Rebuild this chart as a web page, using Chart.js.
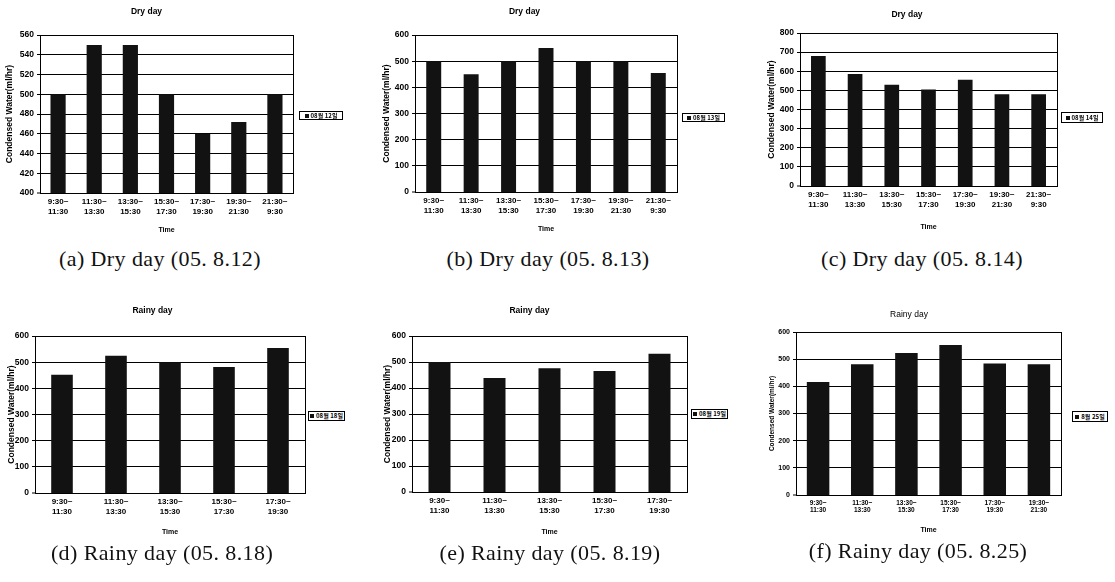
<!DOCTYPE html>
<html lang="ko">
<head>
<meta charset="UTF-8">
<title>Condensed Water - Dry / Rainy days</title>
<style>
  body { margin: 0; width: 1115px; height: 582px; background: #fff; position: relative; overflow: hidden; }
  .panel { position: absolute; }
  .legend {
    position: absolute; border: 1px solid #000; box-sizing: border-box;
    font: bold 6px "Noto Sans CJK KR", sans-serif; color: #000;
    display: flex; align-items: center; justify-content: center; white-space: nowrap; line-height: 1;
  }
  .legend i { display: inline-block; width: 4px; height: 4px; background: #111; margin-right: 2px; }
  .caption {
    position: absolute; font: 22px "Liberation Serif", serif; color: #111; letter-spacing: 0.4px;
    white-space: nowrap; transform: translate(-50%, -50%);
  }
</style>
<script src="https://cdn.jsdelivr.net/npm/chart.js@4.4.1/dist/chart.umd.min.js"></script>
</head>
<body>
<script>
// ---- data ----
const timesDry = [['9:30~', '11:30'], ['11:30~', '13:30'], ['13:30~', '15:30'], ['15:30~', '17:30'],
                  ['17:30~', '19:30'], ['19:30~', '21:30'], ['21:30~', '9:30']];
const timesRainy5 = [['9:30~', '11:30'], ['11:30~', '13:30'], ['13:30~', '15:30'], ['15:30~', '17:30'],
                     ['17:30~', '19:30']];
const timesRainy6 = [['9:30~', '11:30'], ['11:30~', '13:30'], ['13:30~', '15:30'], ['15:30~', '17:30'],
                     ['17:30~', '19:30'], ['19:30~', '21:30']];

const water0812 = [500, 550, 550, 500, 460, 472, 500];
const water0813 = [500, 450, 500, 550, 500, 500, 455];
const water0814 = [680, 585, 530, 505, 555, 480, 480];
const water0818 = [452, 525, 500, 482, 554];
const water0819 = [500, 438, 476, 465, 532];
const water0825 = [416, 481, 523, 552, 484, 481];

const chartTitles = ['Dry day', 'Dry day', 'Dry day', 'Rainy day', 'Rainy day', 'Rainy day'];
const legendLabels = ['08월 12일', '08월 13일', '08월 14일', '08월 18일', '08월 19일', '8월 25일'];
const captions = ['(a)  Dry  day (05. 8.12)', '(b)  Dry  day (05. 8.13)', '(c)  Dry  day (05. 8.14)',
                  '(d)  Rainy  day (05. 8.18)', '(e)  Rainy  day (05. 8.19)', '(f)  Rainy  day (05. 8.25)'];
const yMin = [400, 0, 0, 0, 0, 0];
const yMax = [560, 600, 800, 600, 600, 600];
const yStep = [20, 100, 100, 100, 100, 100];

const categories = [timesDry, timesDry, timesDry, timesRainy5, timesRainy5, timesRainy6];
const series = [water0812, water0813, water0814, water0818, water0819, water0825];

// ---- layout (pixels on the page) ----
const layouts = [
  { box: [0, 0, 300, 245],     plot: [40, 35, 293, 193],   titleY: 12,  yTitleX: 10,  timeY: 230, bar: 0.42, legend: [299, 111, 44, 9],  cap: [160, 259] },
  { box: [372, 0, 680, 245],   plot: [415, 35, 677, 192],  titleY: 12,  yTitleX: 387, timeY: 229, bar: 0.40, legend: [682, 113, 43, 9],  cap: [548, 259] },
  { box: [757, 0, 1059, 245],  plot: [800, 33, 1057, 186], titleY: 15,  yTitleX: 772, timeY: 227, bar: 0.40, legend: [1061, 112, 42, 11], cap: [922, 259] },
  { box: [0, 295, 308, 545],   plot: [35, 336, 305, 493],  titleY: 311, yTitleX: 12,  timeY: 532, bar: 0.40, legend: [308, 411, 37, 10], cap: [162, 553] },
  { box: [372, 295, 690, 545], plot: [412, 336, 687, 492], titleY: 311, yTitleX: 388, timeY: 532, bar: 0.40, legend: [691, 409, 37, 10], cap: [550, 553] },
  { box: [757, 295, 1063, 545], plot: [796, 332, 1061, 495], titleY: 315, yTitleX: 772, timeY: 530, bar: 0.51, legend: [1072, 411, 36, 11], cap: [918, 551] }
];

Chart.defaults.font.family = '"Liberation Sans", Arial, sans-serif';
Chart.defaults.color = '#000';

// black frame round the plot area
const framePlugin = {
  id: 'frame',
  afterDraw(chart) {
    const a = chart.chartArea;
    const ctx = chart.ctx;
    ctx.save();
    ctx.strokeStyle = '#000';
    ctx.lineWidth = 1;
    ctx.strokeRect(Math.round(a.left) + 0.5, Math.round(a.top) + 0.5,
                   Math.round(a.right - a.left), Math.round(a.bottom - a.top));
    ctx.restore();
  }
};

function makePanel(i) {
  const L = layouts[i];
  const [bx0, by0, bx1, by1] = L.box;
  const [px0, py0, px1, py1] = L.plot;
  const w = bx1 - bx0, h = by1 - by0;

  const wrap = document.createElement('div');
  wrap.className = 'panel';
  wrap.style.cssText = `left:${bx0}px;top:${by0}px;width:${w}px;height:${h}px;`;
  const canvas = document.createElement('canvas');
  canvas.width = w;
  canvas.height = h;
  wrap.appendChild(canvas);
  document.body.appendChild(wrap);

  const rainyF = i === 5;
  const titleSize = 8.5;
  const titleLH = titleSize * 1.2;
  const titleTop = L.titleY - by0 - titleLH / 2;
  const titleBottom = (py0 - by0) - titleLH - titleTop;
  const axisTitleSize = rainyF ? 6.5 : 8.5;
  const xTickSize = rainyF ? 6.5 : 8;
  const yTickSize = rainyF ? 7 : 8.5;

  new Chart(canvas, {
    type: 'bar',
    data: {
      labels: categories[i],
      datasets: [{
        label: legendLabels[i],
        data: series[i],
        backgroundColor: '#121212',
        borderWidth: 0,
        categoryPercentage: 1,
        barPercentage: L.bar
      }]
    },
    options: {
      responsive: false,
      animation: false,
      layout: { padding: { left: 0, right: bx1 - px1, top: 0, bottom: 0 } },
      scales: {
        x: {
          grid: { display: false, drawTicks: false },
          border: { display: true, color: '#000', width: 1 },
          ticks: { font: { size: xTickSize, weight: 'bold' }, padding: 4, maxRotation: 0, autoSkip: false },
          title: {
            display: true, text: 'Time',
            font: { size: 7, weight: 'bold' },
            padding: { top: 0, bottom: by1 - L.timeY - 4.2 }
          },
          afterFit(scale) { scale.height = by1 - py1; }
        },
        y: {
          min: yMin[i], max: yMax[i],
          // bottom line comes from the frame, so the bars sit right on it
          grid: { color: '#000', lineWidth: c => (c.index === 0 ? 0 : 1), tickWidth: 1, tickColor: '#000', tickLength: 3 },
          border: { display: true, color: '#000', width: 1 },
          ticks: { stepSize: yStep[i], font: { size: yTickSize, weight: 'bold' }, padding: 3 },
          title: {
            display: true, text: 'Condensed Water(ml/hr)',
            font: { size: axisTitleSize, weight: 'bold' },
            padding: { top: L.yTitleX - bx0 - axisTitleSize * 0.6, bottom: 0 }
          },
          afterFit(scale) { scale.width = px0 - bx0; }
        }
      },
      plugins: {
        legend: { display: false },
        tooltip: { enabled: false },
        title: {
          display: true, text: chartTitles[i],
          font: { size: titleSize, weight: rainyF ? 'normal' : 'bold' },
          padding: { top: titleTop, bottom: titleBottom }
        }
      }
    },
    plugins: [framePlugin]
  });

  // legend box
  const lg = document.createElement('div');
  lg.className = 'legend';
  const [lx, ly, lw, lh] = L.legend;
  lg.style.cssText = `left:${lx}px;top:${ly}px;width:${lw}px;height:${lh}px;`;
  lg.innerHTML = `<i></i>${legendLabels[i]}`;
  document.body.appendChild(lg);

  // caption under the chart
  const cp = document.createElement('div');
  cp.className = 'caption';
  cp.style.left = L.cap[0] + 'px';
  cp.style.top = L.cap[1] + 'px';
  cp.textContent = captions[i];
  document.body.appendChild(cp);
}

for (let i = 0; i < 6; i++) makePanel(i);
</script>
</body>
</html>
